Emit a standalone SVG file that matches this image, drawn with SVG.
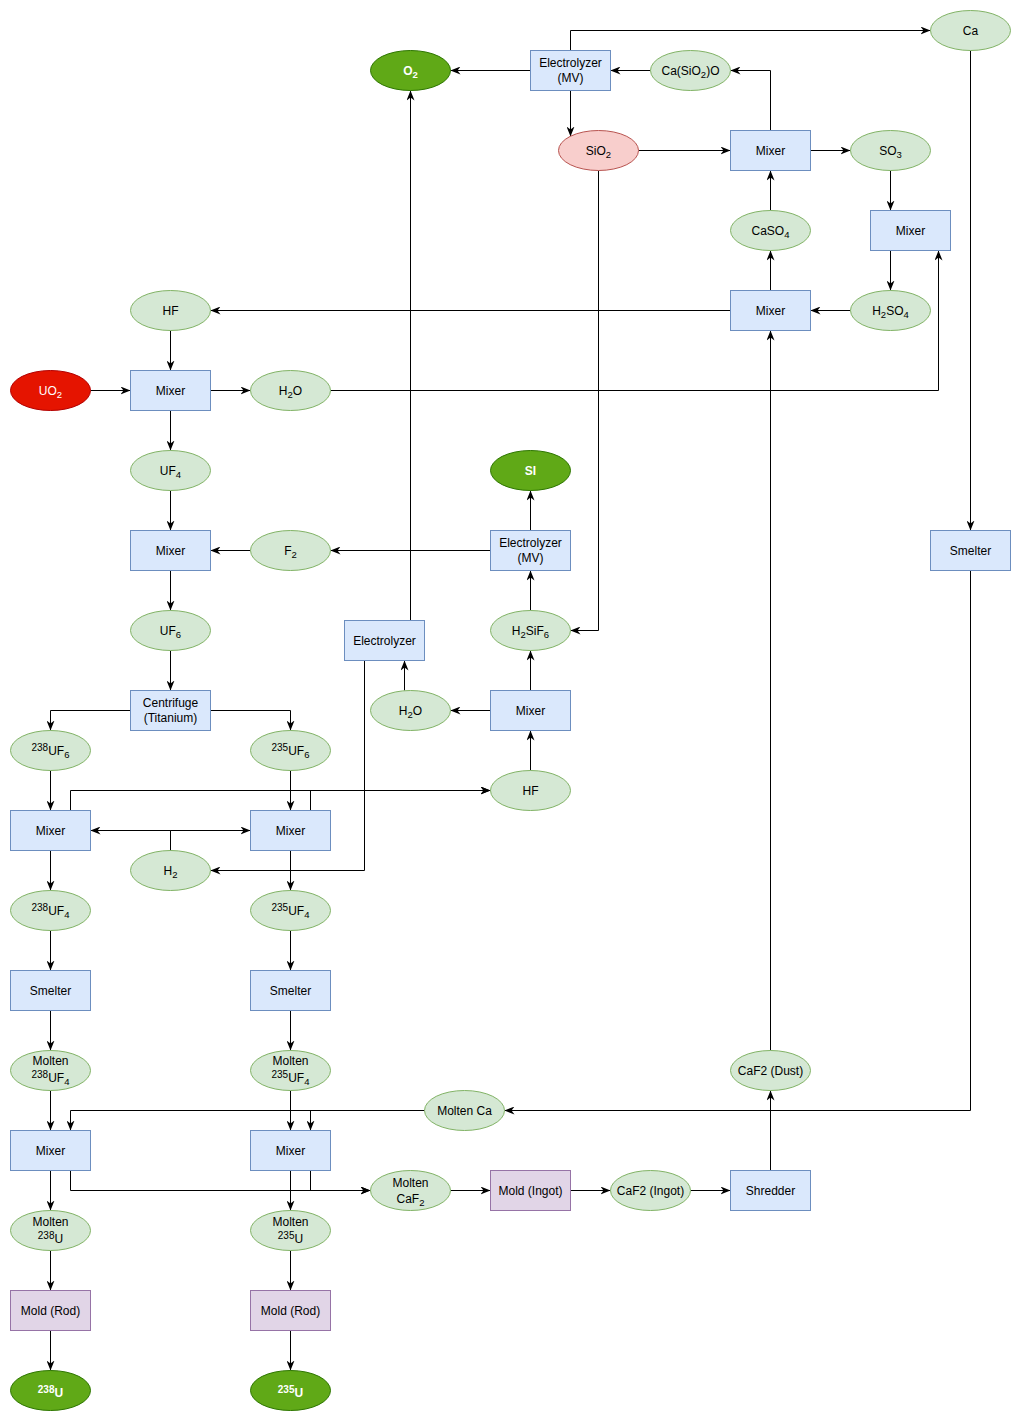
<svg xmlns="http://www.w3.org/2000/svg" width="1022" height="1421" viewBox="0 0 1022 1421">
<style>
.r{fill:#dae8fc;stroke:#6c8ebf;stroke-width:1}
.g{fill:#d5e8d4;stroke:#82b366;stroke-width:1}
.dg{fill:#60a917;stroke:#2d7600;stroke-width:1}
.red{fill:#e51400;stroke:#b20000;stroke-width:1}
.pk{fill:#f8cecc;stroke:#b85450;stroke-width:1}
.pu{fill:#e1d5e7;stroke:#9673a6;stroke-width:1}
text{font-family:"Liberation Sans",Arial,Helvetica,sans-serif;font-size:12px;text-anchor:middle;fill:#000}
.w{fill:#fff}
.b{font-weight:bold}
.sb{font-size:9.5px;baseline-shift:-3px}
.sp{font-size:10px;baseline-shift:4px}
.e{fill:none;stroke:#000;stroke-width:1;marker-end:url(#a)}
</style>
<defs>
<marker id="a" viewBox="0 0 10 8" refX="10" refY="4" markerWidth="10" markerHeight="8" orient="auto" markerUnits="userSpaceOnUse"><path d="M0,0 L10,4 L0,8 L3,4 z" fill="#000"/></marker>
</defs>
<rect width="1022" height="1421" fill="#fff"/>
<g transform="translate(0.5,0.5)">
<g id="connectors">
<path class="e" d="M570,50 V30 H930"/>
<path class="e" d="M530,70 H450"/>
<path class="e" d="M650,70 H610"/>
<path class="e" d="M770,130 V70 H730"/>
<path class="e" d="M570,90 V136"/>
<path class="e" d="M638,150 H730"/>
<path class="e" d="M810,150 H850"/>
<path class="e" d="M890,170 V210"/>
<path class="e" d="M890,250 V290"/>
<path class="e" d="M850,310 H810"/>
<path class="e" d="M770,290 V250"/>
<path class="e" d="M770,210 V170"/>
<path class="e" d="M730,310 H210"/>
<path class="e" d="M170,330 V370"/>
<path class="e" d="M90,390 H130"/>
<path class="e" d="M210,390 H250"/>
<path class="e" d="M330,390 H938 V250"/>
<path class="e" d="M170,410 V450"/>
<path class="e" d="M170,490 V530"/>
<path class="e" d="M250,550 H210"/>
<path class="e" d="M490,550 H330"/>
<path class="e" d="M530,530 V490"/>
<path class="e" d="M530,610 V570"/>
<path class="e" d="M598,170 V630 H570"/>
<path class="e" d="M530,690 V650"/>
<path class="e" d="M490,710 H450"/>
<path class="e" d="M404,690 V660"/>
<path class="e" d="M410,620 V90"/>
<path class="e" d="M364,660 V870 H210"/>
<path class="e" d="M170,570 V610"/>
<path class="e" d="M170,650 V690"/>
<path class="e" d="M130,710 H50 V730"/>
<path class="e" d="M210,710 H290 V730"/>
<path class="e" d="M50,770 V810"/>
<path class="e" d="M290,770 V810"/>
<path class="e" d="M70,810 V790 H490"/>
<path class="e" d="M310,810 V790 H490"/>
<path class="e" d="M530,770 V730"/>
<path class="e" d="M170,850 V830 H90"/>
<path class="e" d="M170,850 V830 H250"/>
<path class="e" d="M50,850 V890"/>
<path class="e" d="M290,850 V890"/>
<path class="e" d="M50,930 V970"/>
<path class="e" d="M290,930 V970"/>
<path class="e" d="M50,1010 V1050"/>
<path class="e" d="M290,1010 V1050"/>
<path class="e" d="M50,1090 V1130"/>
<path class="e" d="M290,1090 V1130"/>
<path class="e" d="M970,50 V530"/>
<path class="e" d="M970,570 V1110 H504"/>
<path class="e" d="M424,1110 H70 V1130"/>
<path class="e" d="M424,1110 H310 V1130"/>
<path class="e" d="M70,1170 V1190 H370"/>
<path class="e" d="M310,1170 V1190 H370"/>
<path class="e" d="M50,1170 V1210"/>
<path class="e" d="M290,1170 V1210"/>
<path class="e" d="M50,1250 V1290"/>
<path class="e" d="M290,1250 V1290"/>
<path class="e" d="M50,1330 V1370"/>
<path class="e" d="M290,1330 V1370"/>
<path class="e" d="M450,1190 H490"/>
<path class="e" d="M570,1190 H610"/>
<path class="e" d="M690,1190 H730"/>
<path class="e" d="M770,1170 V1090"/>
<path class="e" d="M770,1050 V330"/>
</g>
<g id="n-ca"><ellipse class="g" cx="970" cy="30" rx="40" ry="20"/><text x="970" y="34">Ca</text></g>
<g id="n-o2"><ellipse class="dg" cx="410" cy="70" rx="40" ry="20"/><text x="410" y="74" class="w b">O<tspan class="sb">2</tspan></text></g>
<g id="n-elmv1"><rect class="r" x="530" y="50" width="80" height="40"/><text x="570" y="66">Electrolyzer</text><text x="570" y="81">(MV)</text></g>
<g id="n-casio2o"><ellipse class="g" cx="690" cy="70" rx="40" ry="20"/><text x="690" y="74">Ca(SiO<tspan class="sb">2</tspan>)O</text></g>
<g id="n-sio2"><ellipse class="pk" cx="598" cy="150" rx="40" ry="20"/><text x="598" y="154">SiO<tspan class="sb">2</tspan></text></g>
<g id="n-mixer1"><rect class="r" x="730" y="130" width="80" height="40"/><text x="770" y="154">Mixer</text></g>
<g id="n-so3"><ellipse class="g" cx="890" cy="150" rx="40" ry="20"/><text x="890" y="154">SO<tspan class="sb">3</tspan></text></g>
<g id="n-caso4"><ellipse class="g" cx="770" cy="230" rx="40" ry="20"/><text x="770" y="234">CaSO<tspan class="sb">4</tspan></text></g>
<g id="n-mixer2"><rect class="r" x="870" y="210" width="80" height="40"/><text x="910" y="234">Mixer</text></g>
<g id="n-hf1"><ellipse class="g" cx="170" cy="310" rx="40" ry="20"/><text x="170" y="314">HF</text></g>
<g id="n-mixer3"><rect class="r" x="730" y="290" width="80" height="40"/><text x="770" y="314">Mixer</text></g>
<g id="n-h2so4"><ellipse class="g" cx="890" cy="310" rx="40" ry="20"/><text x="890" y="314">H<tspan class="sb">2</tspan>SO<tspan class="sb">4</tspan></text></g>
<g id="n-uo2"><ellipse class="red" cx="50" cy="390" rx="40" ry="20"/><text x="50" y="394" class="w">UO<tspan class="sb">2</tspan></text></g>
<g id="n-mixer4"><rect class="r" x="130" y="370" width="80" height="40"/><text x="170" y="394">Mixer</text></g>
<g id="n-h2o1"><ellipse class="g" cx="290" cy="390" rx="40" ry="20"/><text x="290" y="394">H<tspan class="sb">2</tspan>O</text></g>
<g id="n-uf4"><ellipse class="g" cx="170" cy="470" rx="40" ry="20"/><text x="170" y="474">UF<tspan class="sb">4</tspan></text></g>
<g id="n-si"><ellipse class="dg" cx="530" cy="470" rx="40" ry="20"/><text x="530" y="474" class="w b">SI</text></g>
<g id="n-mixer5"><rect class="r" x="130" y="530" width="80" height="40"/><text x="170" y="554">Mixer</text></g>
<g id="n-f2"><ellipse class="g" cx="290" cy="550" rx="40" ry="20"/><text x="290" y="554">F<tspan class="sb">2</tspan></text></g>
<g id="n-elmv2"><rect class="r" x="490" y="530" width="80" height="40"/><text x="530" y="546">Electrolyzer</text><text x="530" y="561">(MV)</text></g>
<g id="n-smelter1"><rect class="r" x="930" y="530" width="80" height="40"/><text x="970" y="554">Smelter</text></g>
<g id="n-uf6"><ellipse class="g" cx="170" cy="630" rx="40" ry="20"/><text x="170" y="634">UF<tspan class="sb">6</tspan></text></g>
<g id="n-el"><rect class="r" x="344" y="620" width="80" height="40"/><text x="384" y="644">Electrolyzer</text></g>
<g id="n-h2sif6"><ellipse class="g" cx="530" cy="630" rx="40" ry="20"/><text x="530" y="634">H<tspan class="sb">2</tspan>SiF<tspan class="sb">6</tspan></text></g>
<g id="n-centrifuge"><rect class="r" x="130" y="690" width="80" height="40"/><text x="170" y="706">Centrifuge</text><text x="170" y="721">(Titanium)</text></g>
<g id="n-h2o2"><ellipse class="g" cx="410" cy="710" rx="40" ry="20"/><text x="410" y="714">H<tspan class="sb">2</tspan>O</text></g>
<g id="n-mixer6"><rect class="r" x="490" y="690" width="80" height="40"/><text x="530" y="714">Mixer</text></g>
<g id="n-238uf6"><ellipse class="g" cx="50" cy="750" rx="40" ry="20"/><text x="50" y="754"><tspan class="sp">238</tspan>UF<tspan class="sb">6</tspan></text></g>
<g id="n-235uf6"><ellipse class="g" cx="290" cy="750" rx="40" ry="20"/><text x="290" y="754"><tspan class="sp">235</tspan>UF<tspan class="sb">6</tspan></text></g>
<g id="n-hf2"><ellipse class="g" cx="530" cy="790" rx="40" ry="20"/><text x="530" y="794">HF</text></g>
<g id="n-mixer7"><rect class="r" x="10" y="810" width="80" height="40"/><text x="50" y="834">Mixer</text></g>
<g id="n-mixer8"><rect class="r" x="250" y="810" width="80" height="40"/><text x="290" y="834">Mixer</text></g>
<g id="n-h2"><ellipse class="g" cx="170" cy="870" rx="40" ry="20"/><text x="170" y="874">H<tspan class="sb">2</tspan></text></g>
<g id="n-238uf4"><ellipse class="g" cx="50" cy="910" rx="40" ry="20"/><text x="50" y="914"><tspan class="sp">238</tspan>UF<tspan class="sb">4</tspan></text></g>
<g id="n-235uf4"><ellipse class="g" cx="290" cy="910" rx="40" ry="20"/><text x="290" y="914"><tspan class="sp">235</tspan>UF<tspan class="sb">4</tspan></text></g>
<g id="n-smelter2"><rect class="r" x="10" y="970" width="80" height="40"/><text x="50" y="994">Smelter</text></g>
<g id="n-smelter3"><rect class="r" x="250" y="970" width="80" height="40"/><text x="290" y="994">Smelter</text></g>
<g id="n-m238uf4"><ellipse class="g" cx="50" cy="1070" rx="40" ry="20"/><text x="50" y="1064">Molten</text><text x="50" y="1081"><tspan class="sp">238</tspan>UF<tspan class="sb">4</tspan></text></g>
<g id="n-m235uf4"><ellipse class="g" cx="290" cy="1070" rx="40" ry="20"/><text x="290" y="1064">Molten</text><text x="290" y="1081"><tspan class="sp">235</tspan>UF<tspan class="sb">4</tspan></text></g>
<g id="n-caf2dust"><ellipse class="g" cx="770" cy="1070" rx="40" ry="20"/><text x="770" y="1074">CaF2 (Dust)</text></g>
<g id="n-moltenca"><ellipse class="g" cx="464" cy="1110" rx="40" ry="20"/><text x="464" y="1114">Molten Ca</text></g>
<g id="n-mixer9"><rect class="r" x="10" y="1130" width="80" height="40"/><text x="50" y="1154">Mixer</text></g>
<g id="n-mixer10"><rect class="r" x="250" y="1130" width="80" height="40"/><text x="290" y="1154">Mixer</text></g>
<g id="n-moltencaf2"><ellipse class="g" cx="410" cy="1190" rx="40" ry="20"/><text x="410" y="1186">Molten</text><text x="410" y="1202">CaF<tspan class="sb">2</tspan></text></g>
<g id="n-moldingot"><rect class="pu" x="490" y="1170" width="80" height="40"/><text x="530" y="1194">Mold (Ingot)</text></g>
<g id="n-caf2ingot"><ellipse class="g" cx="650" cy="1190" rx="40" ry="20"/><text x="650" y="1194">CaF2 (Ingot)</text></g>
<g id="n-shredder"><rect class="r" x="730" y="1170" width="80" height="40"/><text x="770" y="1194">Shredder</text></g>
<g id="n-m238u"><ellipse class="g" cx="50" cy="1230" rx="40" ry="20"/><text x="50" y="1225">Molten</text><text x="50" y="1242"><tspan class="sp">238</tspan>U</text></g>
<g id="n-m235u"><ellipse class="g" cx="290" cy="1230" rx="40" ry="20"/><text x="290" y="1225">Molten</text><text x="290" y="1242"><tspan class="sp">235</tspan>U</text></g>
<g id="n-moldrod1"><rect class="pu" x="10" y="1290" width="80" height="40"/><text x="50" y="1314">Mold (Rod)</text></g>
<g id="n-moldrod2"><rect class="pu" x="250" y="1290" width="80" height="40"/><text x="290" y="1314">Mold (Rod)</text></g>
<g id="n-238u"><ellipse class="dg" cx="50" cy="1390" rx="40" ry="20"/><text x="50" y="1396" class="w b"><tspan class="sp">238</tspan>U</text></g>
<g id="n-235u"><ellipse class="dg" cx="290" cy="1390" rx="40" ry="20"/><text x="290" y="1396" class="w b"><tspan class="sp">235</tspan>U</text></g>
</g>
</svg>
